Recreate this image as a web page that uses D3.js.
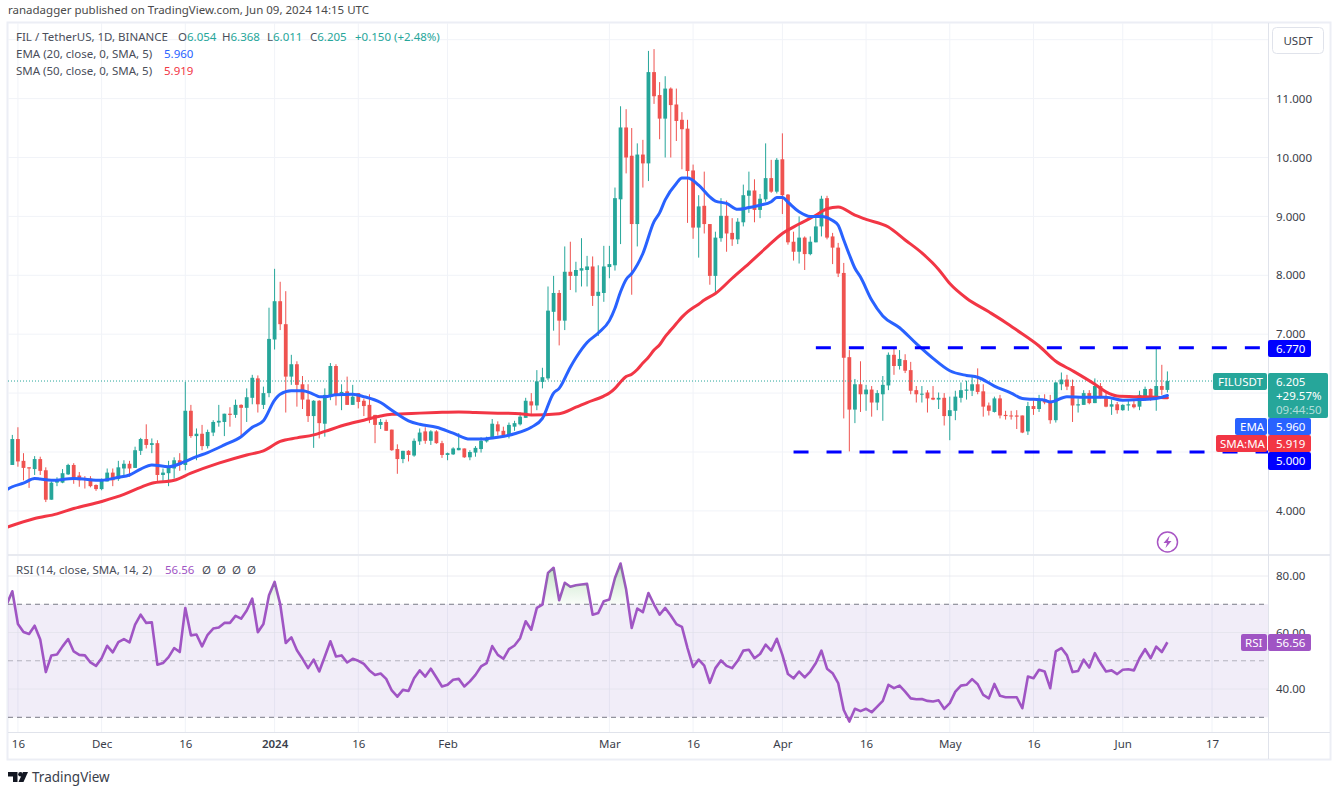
<!DOCTYPE html>
<html>
<head>
<meta charset="utf-8">
<title>FIL / TetherUS</title>
<script src="https://cdnjs.cloudflare.com/ajax/libs/d3/7.8.5/d3.min.js"></script>
<style>
  body { margin: 0; background: #fff; }
  svg { display: block; }
  text { font-family: "Noto Sans", sans-serif; }
  .tick text { fill: #3a3e4a; }
</style>
</head>
<body>
<div id="chart"></div>
<script>
// daily candles from 15 Nov 2023, open high low close
var ohlc = [
[4.78,5.29,4.78,5.22],[5.22,5.42,4.75,4.84],[4.85,4.98,4.52,4.73],[4.74,4.74,4.39,4.72],[4.71,4.93,4.61,4.88],
[4.88,4.92,4.61,4.68],[4.69,4.74,4.15,4.19],[4.19,4.50,4.19,4.48],[4.48,4.57,4.42,4.52],[4.48,4.71,4.47,4.64],
[4.62,4.80,4.61,4.78],[4.78,4.81,4.46,4.55],[4.60,4.66,4.41,4.52],[4.55,4.59,4.38,4.54],[4.55,4.59,4.40,4.42],
[4.44,4.45,4.34,4.37],[4.37,4.55,4.35,4.52],[4.50,4.72,4.50,4.65],[4.65,4.72,4.42,4.52],[4.54,4.85,4.51,4.74],
[4.72,4.86,4.58,4.80],[4.80,4.85,4.58,4.72],[4.73,5.09,4.73,5.03],[5.02,5.24,4.95,5.22],[5.22,5.47,5.06,5.12],
[5.12,5.23,4.98,5.15],[5.15,5.20,4.50,4.61],[4.61,4.72,4.51,4.65],[4.64,4.85,4.42,4.74],[4.72,4.91,4.55,4.86],
[4.86,4.98,4.68,4.78],[4.78,6.19,4.69,5.70],[5.70,5.80,5.24,5.27],[5.27,5.40,4.86,5.31],[5.31,5.46,5.03,5.10],
[5.10,5.38,5.06,5.34],[5.33,5.54,5.27,5.51],[5.50,5.80,5.43,5.53],[5.51,5.65,5.27,5.65],[5.65,5.76,5.43,5.63],
[5.63,5.89,5.58,5.80],[5.80,5.81,5.27,5.75],[5.75,6.08,5.51,5.93],[5.92,6.31,5.81,6.26],[6.25,6.30,5.67,5.81],
[5.80,6.11,5.73,6.00],[6.00,7.45,5.93,6.92],[6.91,8.11,6.74,7.56],[7.56,7.89,7.07,7.17],[7.17,7.73,5.67,6.28],
[6.28,6.65,6.14,6.49],[6.49,6.54,5.77,6.14],[6.15,6.29,5.73,5.89],[5.89,6.15,5.51,5.61],[5.61,5.88,5.07,5.87],
[5.87,5.88,5.23,5.49],[5.48,6.08,5.26,5.97],[5.94,6.51,5.88,6.46],[6.46,6.49,5.79,5.96],[5.96,6.15,5.71,6.02],
[6.03,6.28,5.80,5.80],[5.80,6.14,5.80,5.94],[6.00,6.00,5.74,5.85],[5.87,5.91,5.61,5.78],[5.80,5.98,5.49,5.57],
[5.63,5.63,5.15,5.46],[5.46,5.56,5.39,5.51],[5.51,5.55,5.36,5.36],[5.38,5.38,5.02,5.03],[5.05,5.13,4.63,4.88],
[4.88,5.02,4.81,5.02],[5.02,5.03,4.84,4.95],[4.94,5.23,4.92,5.19],[5.18,5.40,5.12,5.33],[5.35,5.42,5.14,5.19],
[5.19,5.37,5.12,5.35],[5.35,5.37,5.14,5.15],[5.15,5.19,4.90,4.95],[4.95,4.99,4.86,4.98],[4.96,5.08,4.95,5.06],
[5.03,5.32,5.03,5.07],[5.06,5.06,4.90,4.91],[4.91,5.03,4.86,5.00],[4.99,5.10,4.92,5.07],[5.05,5.25,4.99,5.19],
[5.18,5.26,5.16,5.22],[5.22,5.56,5.22,5.48],[5.47,5.52,5.28,5.35],[5.36,5.43,5.28,5.28],[5.28,5.50,5.23,5.46],
[5.43,5.53,5.36,5.49],[5.47,5.67,5.45,5.60],[5.58,5.92,5.58,5.87],[5.86,6.00,5.63,5.79],[5.79,6.39,5.71,6.20],
[6.19,6.43,6.08,6.27],[6.25,7.81,6.22,7.40],[7.38,7.99,7.06,7.70],[7.70,7.75,6.81,7.23],[7.23,8.49,7.07,8.06],
[8.06,8.57,7.75,7.99],[7.99,8.23,7.71,8.09],[8.08,8.63,7.81,8.12],[8.09,8.33,7.81,8.15],[8.15,8.32,7.48,7.65],
[7.65,8.17,6.97,7.72],[7.70,8.50,7.55,8.15],[8.14,8.50,7.95,8.19],[8.17,9.49,8.08,9.31],[9.29,10.87,8.53,10.51],
[10.51,10.82,9.73,10.00],[10.03,10.50,7.67,8.87],[8.87,10.24,8.49,10.05],[10.05,10.30,9.49,9.90],[9.90,11.81,9.60,11.45],
[11.45,11.84,10.91,11.04],[11.06,11.28,10.31,10.66],[10.66,11.38,10.00,11.17],[11.17,11.19,10.00,10.89],[10.90,11.17,10.28,10.62],
[10.64,10.77,9.80,10.48],[10.49,10.64,8.89,9.77],[9.78,9.88,8.62,8.81],[8.81,9.36,8.30,9.17],[9.18,9.76,8.71,8.87],
[8.87,8.87,7.84,7.99],[7.99,8.74,7.68,8.64],[8.63,9.31,8.57,9.01],[9.01,9.27,8.40,8.71],[8.72,8.97,8.50,8.61],
[8.61,8.97,8.53,8.91],[8.90,9.54,8.83,9.36],[9.35,9.76,9.06,9.44],[9.44,9.63,8.90,9.11],[9.11,9.38,8.97,9.30],
[9.29,10.24,9.25,9.65],[9.65,9.96,9.40,9.42],[9.42,9.99,9.39,9.96],[9.97,10.41,9.04,9.36],[9.37,9.38,8.52,8.56],
[8.57,8.74,8.25,8.40],[8.40,9.00,8.20,8.64],[8.64,8.66,8.09,8.36],[8.36,8.66,8.34,8.57],[8.56,9.00,8.56,8.83],
[8.83,9.35,8.66,9.30],[9.31,9.35,8.61,8.64],[8.66,8.72,8.19,8.47],[8.47,8.55,7.97,8.03],[8.04,8.21,5.57,6.60],
[6.61,6.73,5.01,5.72],[5.72,6.24,5.49,6.15],[6.15,6.54,5.68,5.98],[5.98,6.14,5.70,6.06],[6.06,6.12,5.60,5.84],
[5.84,6.05,5.71,6.00],[5.98,6.29,5.53,6.14],[6.13,6.69,6.05,6.65],[6.65,6.76,6.31,6.46],[6.46,6.73,6.40,6.58],
[6.56,6.66,6.34,6.38],[6.39,6.53,5.98,6.04],[6.05,6.12,5.84,5.98],[5.98,6.12,5.84,5.99],[6.01,6.05,5.67,5.91],
[5.92,6.12,5.88,5.89],[5.89,6.01,5.73,5.92],[5.92,6.00,5.45,5.61],[5.61,5.94,5.20,5.71],[5.70,6.04,5.54,5.94],
[5.92,6.18,5.84,6.05],[6.04,6.21,5.89,6.06],[6.04,6.28,5.95,6.15],[6.15,6.42,5.98,6.02],[6.03,6.15,5.60,5.77],
[5.79,5.84,5.62,5.70],[5.68,5.94,5.67,5.91],[5.91,5.97,5.57,5.62],[5.63,5.70,5.55,5.61],[5.62,5.70,5.55,5.61],
[5.62,5.71,5.39,5.60],[5.62,5.62,5.32,5.33],[5.35,5.85,5.29,5.78],[5.78,5.88,5.63,5.73],[5.73,5.97,5.68,5.89],
[5.89,5.98,5.81,5.84],[5.85,5.97,5.48,5.54],[5.54,6.19,5.50,6.18],[6.15,6.35,6.05,6.23],[6.23,6.31,6.05,6.11],
[6.12,6.23,5.51,5.79],[5.79,5.91,5.67,5.81],[5.80,6.05,5.80,6.00],[6.00,6.05,5.81,5.83],[5.83,6.25,5.83,6.12],
[6.12,6.17,5.91,5.93],[5.93,6.02,5.76,5.77],[5.77,5.89,5.63,5.81],[5.81,5.85,5.65,5.71],[5.71,5.81,5.70,5.80],
[5.79,5.88,5.70,5.81],[5.81,5.88,5.74,5.76],[5.77,6.04,5.71,5.97],[5.95,6.11,5.87,6.07],[6.07,6.08,5.87,5.91],
[5.91,6.77,5.70,6.12],[6.12,6.48,5.97,6.055],[6.054,6.368,6.011,6.205]
];

// moving averages, [day number, value]
var ema = [[-1,4.36],[0,4.41],[2,4.47],[4,4.55],[5,4.54],[7,4.52],[11,4.55],[16,4.52],[19,4.57],[21,4.61],[23,4.71],[25,4.78],[28,4.75],[30,4.80],[31,4.84],[33,4.92],[35,4.99],[38,5.12],[41,5.26],[43,5.42],[45,5.53],[47,5.88],[48,5.98],[50,6.04],[52,6.04],[54,5.98],[55,5.94],[56,5.94],[58,5.97],[61,5.98],[63,5.94],[66,5.84],[68,5.71],[71,5.53],[73,5.47],[76,5.42],[79,5.32],[82,5.22],[84,5.22],[87,5.25],[90,5.31],[93,5.42],[95,5.57],[97,6.00],[98,6.08],[100,6.44],[101,6.60],[103,6.86],[105,7.02],[107,7.23],[108,7.44],[109,7.72],[110,7.93],[111,8.03],[113,8.37],[115,8.91],[116,9.06],[117,9.28],[119,9.56],[120,9.65],[121,9.65],[123,9.53],[125,9.33],[126,9.26],[128,9.22],[130,9.12],[132,9.15],[134,9.19],[136,9.25],[137,9.32],[138,9.32],[139,9.24],[141,9.08],[143,9.00],[145,9.00],[147,8.93],[148,8.85],[149,8.60],[150,8.35],[151,8.12],[152,7.97],[154,7.58],[156,7.31],[159,7.11],[162,6.84],[165,6.59],[168,6.38],[171,6.30],[173,6.27],[176,6.12],[179,6.00],[181,5.91],[185,5.88],[186,5.85],[189,5.94],[192,5.93],[196,5.93],[199,5.88],[202,5.89],[205,5.91],[207,5.96]];
var sma = [[-1,3.72],[4,3.87],[8,3.95],[11,4.04],[16,4.16],[20,4.28],[23,4.40],[25,4.47],[29,4.52],[32,4.64],[37,4.81],[42,4.95],[45,5.02],[48,5.18],[51,5.24],[54,5.29],[56,5.35],[60,5.47],[63,5.54],[66,5.61],[68,5.64],[73,5.66],[76,5.67],[80,5.68],[83,5.67],[87,5.66],[91,5.65],[93,5.63],[98,5.65],[101,5.76],[103,5.84],[106,5.95],[107,6.00],[108,6.08],[109,6.19],[110,6.28],[111,6.32],[112,6.40],[113,6.51],[114,6.61],[115,6.73],[116,6.82],[117,6.96],[118,7.07],[119,7.18],[120,7.29],[121,7.38],[122,7.45],[123,7.51],[124,7.58],[126,7.69],[129,7.95],[132,8.20],[135,8.46],[138,8.71],[141,8.87],[144,9.02],[146,9.13],[148,9.16],[151,9.02],[153,8.95],[157,8.82],[160,8.60],[163,8.38],[166,8.10],[168,7.86],[171,7.61],[175,7.38],[178,7.20],[180,7.07],[184,6.80],[187,6.54],[190,6.38],[194,6.15],[196,6.02],[198,5.95],[201,5.94],[205,5.93],[207,5.919]];

var rsi = [70,74.6,63,60.2,59.5,62.4,57.5,46,51.9,52.2,55.1,57.7,53.3,52.1,51.9,49.4,48.2,50.9,55.3,53,56.6,57.7,56.5,62.8,66.3,63.4,63.6,48.6,49.2,51.3,54.5,53.1,68.7,59,59.3,55.1,59.2,61.4,61.8,63.4,63.4,65.9,64.9,67.8,72,60.1,63,73.2,77.9,70.1,56.3,58.3,53.7,50.7,47.4,50.4,46.2,51.5,56.9,51.5,51.9,49.4,50.7,50,48.9,46.6,45,45.5,43.6,39.5,37.3,39.7,39.3,43.8,46.6,44.4,47.2,44.1,40.9,41.5,
43.3,43.6,40.9,42.7,45,48,49.2,55.2,52.1,50.7,54.1,55.4,58,64,61,68.7,69.9,81.1,82.9,71.4,77.6,76.2,76.7,77,77.2,66.3,66.9,71.1,71.7,79.3,84.4,75.2,61.6,68.5,67.2,74,69.9,66.3,68.7,66,63,62,54.5,47.8,50.4,48.3,42.2,47.4,50.1,48.2,47.4,50,53.6,53.9,50.9,52.4,55.7,53.6,57.8,52.1,45.3,43.8,46.2,44.1,46.2,49.2,53.6,47.2,45.6,42.1,32.6,28.5,33,32.2,33,31.8,33.8,35.8,41.5,40.3,41.2,39.1,36.7,36.4,36.5,35.8,35.6,36,33,35,39.1,41.2,41.5,43.5,41.7,37.9,36.7,41.8,37.6,37.1,37.1,37.1,33.2,44.4,43.8,46.8,46.2,40.3,53.3,54.5,51.9,46,46.4,50.4,47.6,52.7,49.2,46.2,46.6,45.3,46.8,47,46.6,50.9,54.1,50.9,55,53.1,56.56];

var start = new Date(Date.UTC(2023, 10, 15));
function day(i) { return d3.utcDay.offset(start, i); }

var candles = ohlc.map(function(d, i) {
  return { date: day(i), o: d[0], h: d[1], l: d[2], c: d[3] };
});
var rsiData = rsi.map(function(v, i) { return { date: day(i - 1), v: v }; });

var W = 1339, H = 792;
var left = 8, right = 1268, top1 = 23, bot1 = 554, top2 = 556, bot2 = 732;

var green = "#26a69a", red = "#ef5350", blue = "#2962ff", maRed = "#f23645", purple = "#a055c4", level = "#0000ff";

var x = d3.scaleUtc().domain([day(0), day(207)]).range([12.33, 1167.4]);
var y = d3.scaleLinear().domain([4, 11]).range([510.9, 98.6]);
var yR = d3.scaleLinear().domain([30, 80]).range([717.3, 576]);

var svg = d3.select("#chart").append("svg").attr("width", W).attr("height", H);
svg.append("rect").attr("width", W).attr("height", H).attr("fill", "#fff");

var defs = svg.append("defs");
defs.append("clipPath").attr("id", "clipPrice").append("rect")
  .attr("x", left).attr("y", top1).attr("width", right - left).attr("height", bot1 - top1);
defs.append("clipPath").attr("id", "clipRsi").append("rect")
  .attr("x", left).attr("y", top2).attr("width", right - left).attr("height", bot2 - top2);
defs.append("clipPath").attr("id", "clipOver").append("rect")
  .attr("x", left).attr("y", top2).attr("width", right - left).attr("height", yR(70) - top2);
defs.append("clipPath").attr("id", "clipUnder").append("rect")
  .attr("x", left).attr("y", yR(30)).attr("width", right - left).attr("height", bot2 - yR(30));
var gradG = defs.append("linearGradient").attr("id", "gradOver").attr("x1", 0).attr("x2", 0)
  .attr("gradientUnits", "userSpaceOnUse").attr("y1", yR(85)).attr("y2", yR(70));
gradG.append("stop").attr("offset", 0).attr("stop-color", "#4caf50").attr("stop-opacity", 0.35);
gradG.append("stop").attr("offset", 1).attr("stop-color", "#4caf50").attr("stop-opacity", 0.03);
var gradR = defs.append("linearGradient").attr("id", "gradUnder").attr("x1", 0).attr("x2", 0)
  .attr("gradientUnits", "userSpaceOnUse").attr("y1", yR(30)).attr("y2", yR(26));
gradR.append("stop").attr("offset", 0).attr("stop-color", "#f23645").attr("stop-opacity", 0.03);
gradR.append("stop").attr("offset", 1).attr("stop-color", "#f23645").attr("stop-opacity", 0.3);

// frame
svg.append("text").attr("x", 8).attr("y", 14).attr("font-size", 11.5).attr("fill", "#4a4a4a")
  .text("ranadagger published on TradingView.com, Jun 09, 2024 14:15 UTC");
svg.append("rect").attr("x", 7.5).attr("y", 22.5).attr("width", 1323).attr("height", 737)
  .attr("fill", "none").attr("stroke", "#eceef5").attr("stroke-width", 2);

// grid
var timeTicks = [[2023,10,16],[2023,11,1],[2023,11,16],[2024,0,1],[2024,0,16],[2024,1,1],[2024,2,1],[2024,2,16],[2024,3,1],[2024,3,16],[2024,4,1],[2024,4,16],[2024,5,1],[2024,5,17]]
  .map(function(d) { return new Date(Date.UTC(d[0], d[1], d[2])); });
var priceTicks = [4, 5, 6, 7, 8, 9, 10, 11];
var gridColor = "#f1f3f8";

svg.append("g").selectAll("line").data(timeTicks).enter().append("line")
  .attr("x1", function(d) { return x(d); }).attr("x2", function(d) { return x(d); })
  .attr("y1", top1).attr("y2", bot1).attr("stroke", gridColor);
svg.append("g").selectAll("line").data(timeTicks).enter().append("line")
  .attr("x1", function(d) { return x(d); }).attr("x2", function(d) { return x(d); })
  .attr("y1", top2).attr("y2", bot2).attr("stroke", gridColor);
svg.append("g").selectAll("line").data(priceTicks.concat([12])).enter().append("line")
  .attr("x1", left).attr("x2", right)
  .attr("y1", function(d) { return y(d); }).attr("y2", function(d) { return y(d); })
  .attr("stroke", gridColor);

// candles
var price = svg.append("g").attr("clip-path", "url(#clipPrice)");
var bars = price.selectAll("g.candle").data(candles).enter().append("g").attr("class", "candle");
bars.append("line")
  .attr("x1", function(d) { return x(d.date); }).attr("x2", function(d) { return x(d.date); })
  .attr("y1", function(d) { return y(d.h); }).attr("y2", function(d) { return y(d.l); })
  .attr("stroke", function(d) { return d.c >= d.o ? green : red; })
  .attr("stroke-width", 1);
bars.append("rect")
  .attr("x", function(d) { return x(d.date) - 1.9; })
  .attr("width", 3.8)
  .attr("y", function(d) { return y(Math.max(d.o, d.c)); })
  .attr("height", function(d) { return Math.max(1, Math.abs(y(d.o) - y(d.c))); })
  .attr("fill", function(d) { return d.c >= d.o ? green : red; });

// last price
price.append("line").attr("x1", left).attr("x2", right).attr("y1", y(6.205)).attr("y2", y(6.205))
  .attr("stroke", green).attr("stroke-dasharray", "1,2");

// averages
var maLine = d3.line().curve(d3.curveMonotoneX).x(function(d) { return x(day(d[0])); }).y(function(d) { return y(d[1]); });
price.append("path").datum(sma).attr("d", maLine).attr("fill", "none").attr("stroke", maRed)
  .attr("stroke-width", 3).attr("stroke-linejoin", "round").attr("stroke-linecap", "round");
price.append("path").datum(ema).attr("d", maLine).attr("fill", "none").attr("stroke", blue)
  .attr("stroke-width", 3).attr("stroke-linejoin", "round").attr("stroke-linecap", "round");

// support and resistance
var levels = [{ v: 6.77, from: 144 }, { v: 5, from: 140 }];
price.selectAll("line.level").data(levels).enter().append("line").attr("class", "level")
  .attr("x1", function(d) { return x(day(d.from)); }).attr("x2", right)
  .attr("y1", function(d) { return y(d.v); }).attr("y2", function(d) { return y(d.v); })
  .attr("stroke", level).attr("stroke-width", 3).attr("stroke-dasharray", "15,18");

// rsi pane
var pane = svg.append("g").attr("clip-path", "url(#clipRsi)");
pane.append("rect").attr("x", left).attr("width", right - left)
  .attr("y", yR(70)).attr("height", yR(30) - yR(70)).attr("fill", "#7e57c2").attr("opacity", 0.11);
pane.selectAll("line.rg").data([40, 60, 80]).enter().append("line").attr("class", "rg")
  .attr("x1", left).attr("x2", right)
  .attr("y1", function(d) { return yR(d); }).attr("y2", function(d) { return yR(d); })
  .attr("stroke", "#dfdfe8").attr("stroke-opacity", 0.6);
pane.selectAll("line.band").data([70, 50, 30]).enter().append("line").attr("class", "band")
  .attr("x1", left).attr("x2", right)
  .attr("y1", function(d) { return yR(d); }).attr("y2", function(d) { return yR(d); })
  .attr("stroke", "#787b86").attr("stroke-dasharray", "5,4")
  .attr("stroke-opacity", function(d) { return d == 50 ? 0.5 : 1; });

var over = d3.area().x(function(d) { return x(d.date); }).y0(yR(70)).y1(function(d) { return yR(d.v); });
var under = d3.area().x(function(d) { return x(d.date); }).y0(yR(30)).y1(function(d) { return yR(d.v); });
svg.append("g").attr("clip-path", "url(#clipOver)").append("path").datum(rsiData).attr("d", over).attr("fill", "url(#gradOver)");
svg.append("g").attr("clip-path", "url(#clipUnder)").append("path").datum(rsiData).attr("d", under).attr("fill", "url(#gradUnder)");

var rsiLine = d3.line().x(function(d) { return x(d.date); }).y(function(d) { return yR(d.v); });
pane.append("path").datum(rsiData).attr("d", rsiLine).attr("fill", "none").attr("stroke", purple)
  .attr("stroke-width", 2.6).attr("stroke-linejoin", "round");

// axes
svg.append("line").attr("x1", left).attr("x2", 1330).attr("y1", 555).attr("y2", 555).attr("stroke", "#e0e3eb").attr("stroke-width", 1.5);
svg.append("line").attr("x1", left).attr("x2", 1330).attr("y1", bot2 + 0.5).attr("y2", bot2 + 0.5).attr("stroke", "#e0e3eb");
svg.append("line").attr("x1", right + 0.5).attr("x2", right + 0.5).attr("y1", top1).attr("y2", 759).attr("stroke", "#e0e3eb");

// 5 and 6 sit under the price tags
var yAxis = d3.axisRight(y).tickValues([4, 7, 8, 9, 10, 11]).tickSize(0).tickPadding(8).tickFormat(d3.format(".3f"));
svg.append("g").attr("transform", "translate(" + right + ",0)").call(yAxis)
  .call(function(g) { g.select(".domain").remove(); })
  .selectAll("text").attr("font-size", 11.5).style("font-family", null);

var rAxis = d3.axisRight(yR).tickValues([40, 60, 80]).tickSize(0).tickPadding(8).tickFormat(d3.format(".2f"));
svg.append("g").attr("transform", "translate(" + right + ",0)").call(rAxis)
  .call(function(g) { g.select(".domain").remove(); })
  .selectAll("text").attr("font-size", 11.5).style("font-family", null);

var fmtTick = function(d) {
  if (d.getUTCMonth() == 0 && d.getUTCDate() == 1) return d.getUTCFullYear();
  return d.getUTCDate() == 1 ? d3.utcFormat("%b")(d) : d.getUTCDate();
};
var xAxis = d3.axisBottom(x).tickValues(timeTicks).tickSize(0).tickPadding(8).tickFormat(fmtTick);
svg.append("g").attr("transform", "translate(0," + bot2 + ")").call(xAxis)
  .call(function(g) { g.select(".domain").remove(); })
  .selectAll("text").attr("font-size", 11.5).style("font-family", null)
  .attr("font-weight", function(d) { return d.getUTCFullYear() == 2024 && d.getUTCMonth() == 0 && d.getUTCDate() == 1 ? 600 : 400; });

// price tags
function tag(x0, y0, w, h, color, label, tx) {
  svg.append("rect").attr("x", x0).attr("y", y0).attr("width", w).attr("height", h).attr("rx", 2).attr("fill", color);
  if (label) svg.append("text").attr("x", tx).attr("y", y0 + h / 2 + 4).attr("font-size", 11.5).attr("fill", "#fff").text(label);
}
tag(1268, 340, 43, 17, level, "6.770", 1276);
tag(1268, 452, 43, 18, level, "5.000", 1276);
tag(1213, 373, 54, 17, green, "FILUSDT", 1218);
tag(1268, 373, 60, 45, green);
svg.append("text").attr("x", 1276).attr("y", 386).attr("font-size", 11.5).attr("fill", "#fff").text("6.205");
svg.append("text").attr("x", 1276).attr("y", 400).attr("font-size", 11.5).attr("fill", "#fff").text("+29.57%");
svg.append("text").attr("x", 1276).attr("y", 413.5).attr("font-size", 11.5).attr("fill", "#fff").attr("fill-opacity", 0.65).text("09:44:50");
tag(1235, 418, 32, 17, blue, "EMA", 1240);
tag(1268, 418, 43, 17, blue, "5.960", 1276);
tag(1216, 435, 51, 17, maRed, "SMA:MA", 1220);
tag(1268, 435, 43, 17, maRed, "5.919", 1276);
tag(1241, 634, 26, 17, purple, "RSI", 1245);
tag(1268, 634, 43, 17, purple, "56.56", 1276);

// legends
function legend(xp, yp, parts) {
  var t = svg.append("text").attr("x", xp).attr("y", yp).attr("font-size", 11.5).attr("xml:space", "preserve");
  parts.forEach(function(p) { t.append("tspan").attr("fill", p[1]).text(p[0]); });
}
var ink = "#4a4e5a";
legend(16, 41, [["FIL / TetherUS, 1D, BINANCE", ink]]);
legend(178, 41, [["O", ink], ["6.054", green]]);
legend(222, 41, [["H", ink], ["6.368", green]]);
legend(267, 41, [["L", ink], ["6.011", green]]);
legend(310, 41, [["C", ink], ["6.205", green]]);
legend(355, 41, [["+0.150 (+2.48%)", green]]);
legend(16, 58, [["EMA (20, close, 0, SMA, 5)", ink]]);
legend(164, 58, [["5.960", blue]]);
legend(16, 75, [["SMA (50, close, 0, SMA, 5)", ink]]);
legend(164, 75, [["5.919", maRed]]);
legend(16, 574, [["RSI (14, close, SMA, 14, 2)", ink]]);
legend(165, 574, [["56.56", purple]]);
legend(202, 574, [["\u00d8", ink]]);
legend(217, 574, [["\u00d8", ink]]);
legend(232, 574, [["\u00d8", ink]]);
legend(247, 574, [["\u00d8", ink]]);

// USDT button
svg.append("rect").attr("x", 1272.5).attr("y", 27.5).attr("width", 51).attr("height", 26).attr("rx", 4)
  .attr("fill", "#fff").attr("stroke", "#e0e3eb");
svg.append("text").attr("x", 1298).attr("y", 45).attr("text-anchor", "middle").attr("font-size", 11.5).attr("fill", "#3a3e4a").text("USDT");

// lightning badge
var badge = svg.append("g").attr("transform", "translate(1167.5,542)");
badge.append("circle").attr("r", 10).attr("fill", "#fff").attr("stroke", "#a855c4").attr("stroke-width", 1.5);
badge.append("path").attr("d", "M2,-6 L-4,1 L-0.5,1 L-2,6 L4,-1 L0.5,-1 Z").attr("fill", "#a855c4");

// logo
var logo = svg.append("g").attr("fill", "#131722");
logo.append("path").attr("d", "M8,772 H17.5 V782 H13 V776.5 H8 Z");
logo.append("circle").attr("cx", 20.5).attr("cy", 774.3).attr("r", 2.3);
logo.append("path").attr("d", "M23,772 H28 L23.5,782 H18.5 Z");
svg.append("text").attr("x", 32).attr("y", 782).attr("font-size", 13.5).attr("fill", "#3a3e4a").text("TradingView");
</script>
</body>
</html>
